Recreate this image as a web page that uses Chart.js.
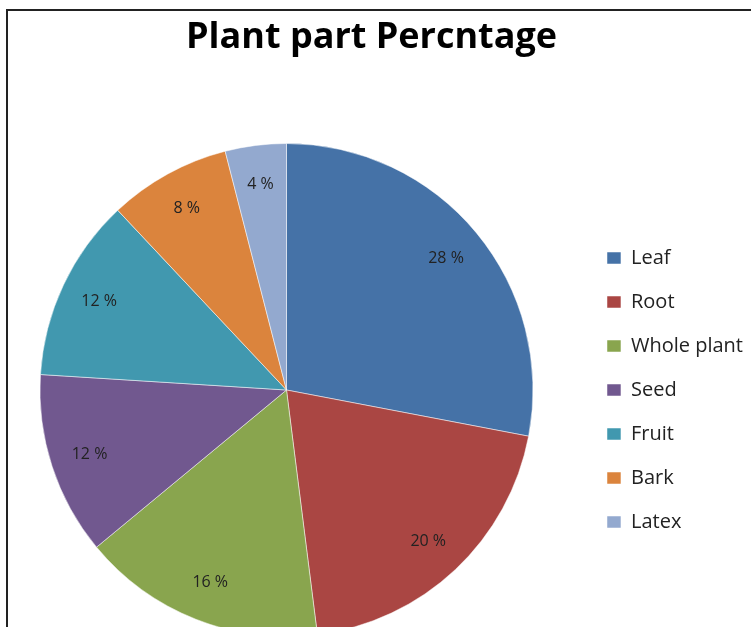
<!DOCTYPE html>
<html>
<head>
<meta charset="utf-8">
<script src="https://cdn.jsdelivr.net/npm/chart.js@4"></script>
<style>
    html, body { margin: 0; padding: 0; background: #fff; overflow: hidden; }
    #wrap { position: relative; width: 751px; height: 627px; overflow: hidden; }
    #plantChart { position: absolute; left: -10px; top: 0; }
    #frame {
        position: absolute; left: 6px; top: 9px; width: 800px; height: 700px;
        border-left: 2px solid #222; border-top: 2px solid #222; pointer-events: none;
    }
</style>
</head>
<body>
<div id="wrap">
    <canvas id="plantChart" width="763" height="637"></canvas>
    <div id="frame"></div>
</div>
<script>
// chart data
const categories = ['Leaf', 'Root', 'Whole plant', 'Seed', 'Fruit', 'Bark', 'Latex'];
const percentages = [28, 20, 16, 12, 12, 8, 4];
const sliceColors = ['#4572a7', '#aa4643', '#89a54e', '#71588f', '#4198af', '#db843d', '#93a9cf'];

// draws the "28 %" style labels inside each slice
const sliceLabels = {
    id: 'sliceLabels',
    afterDatasetsDraw(chart) {
        const ctx = chart.ctx;
        const meta = chart.getDatasetMeta(0);
        ctx.save();
        ctx.font = '16px "Open Sans"';
        ctx.fillStyle = '#222';
        ctx.textAlign = 'center';
        ctx.textBaseline = 'middle';
        meta.data.forEach(function(arc, i) {
            const p = arc.getProps(['x', 'y', 'startAngle', 'endAngle', 'outerRadius'], true);
            const mid = (p.startAngle + p.endAngle) / 2;
            const r = p.outerRadius * 0.84;
            ctx.fillText(percentages[i] + ' %', p.x + Math.cos(mid) * r, p.y + Math.sin(mid) * r);
        });
        ctx.restore();
    }
};

const ctx = document.getElementById('plantChart').getContext('2d');
let plantChart = new Chart(ctx, {
    type: 'pie',
    data: {
        labels: categories,
        datasets: [{
            data: percentages,
            backgroundColor: sliceColors,
            borderColor: 'rgba(255, 255, 255, 0.5)',
            borderWidth: 1
        }]
    },
    options: {
        responsive: false,
        animation: false,
        layout: { padding: 0 },
        plugins: {
            title: {
                display: true,
                text: 'Plant part Percntage',
                color: '#000',
                font: { family: '"Open Sans"', size: 36, weight: 'bold' },
                padding: { top: 16, bottom: 83.8 }
            },
            legend: {
                position: 'right',
                fullSize: false,
                labels: {
                    color: '#222',
                    font: { family: '"Open Sans"', size: 20 },
                    boxWidth: 14,
                    boxHeight: 12,
                    padding: 24
                }
            },
            tooltip: { enabled: false }
        }
    },
    plugins: [sliceLabels]
});
</script>
</body>
</html>
